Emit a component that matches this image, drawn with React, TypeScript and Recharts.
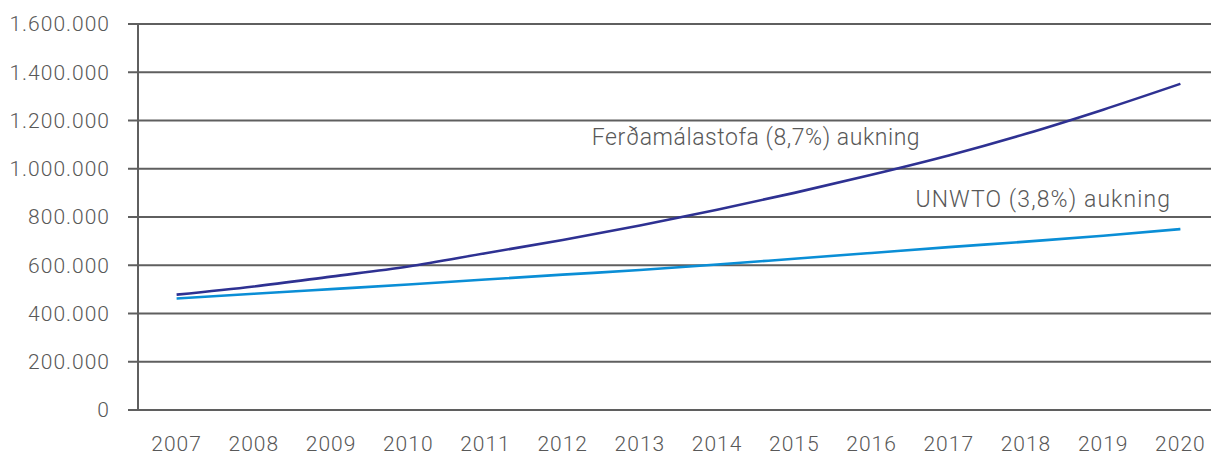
import { LineChart, Line, XAxis, YAxis, CartesianGrid, ReferenceDot } from "recharts";

const GRAY = "#5f5f5f";
const TEXT = "#585858";
const NAVY = "#2e3192";
const BLUE = "#0a8ed6";
const FONT = "Roboto, 'Liberation Sans', sans-serif";

const years = ["2007", "2008", "2009", "2010", "2011", "2012", "2013", "2014", "2015", "2016", "2017", "2018", "2019", "2020"];
const ferdamalastofa = [478000, 512000, 553000, 595000, 650000, 705000, 765000, 830000, 900000, 975000, 1055000, 1145000, 1245000, 1352000];
const unwto = [462000, 482000, 501000, 520000, 541000, 561000, 580000, 603000, 627000, 651000, 675000, 698000, 722000, 750000];
const yTicks = [0, 200000, 400000, 600000, 800000, 1000000, 1200000, 1400000, 1600000];
const boundaryTicks = years.map((_, i) => i).concat([years.length]);
const centerTicks = years.map((_, i) => i + 0.5);

const data = years.map((y, i) => ({ x: i + 0.5, year: y, ferd: ferdamalastofa[i], unwto: unwto[i] }));

const fmt = (v: number) => String(v).replace(/\B(?=(\d{3})+(?!\d))/g, ".");

const labelShape = (text: string, spacing: number) => (p: any) => (
  <text
    x={p.cx}
    y={p.cy}
    textAnchor="end"
    fill={TEXT}
    fontSize={23}
    fontFamily={FONT}
    fontWeight={300}
    letterSpacing={spacing}
  >
    {text}
  </text>
);

export default function App() {
  return (
    <div style={{ position: "absolute", left: 0, top: 0, width: 1211, height: 457, overflow: "hidden", background: "#fff" }}>
      <LineChart width={1221} height={457} data={data} margin={{ top: 24, right: 2, bottom: 0, left: 0 }}>
        <CartesianGrid xAxisId={0} vertical={false} stroke={GRAY} strokeWidth={2} />
        {/* tick marks sit on the year boundaries */}
        <XAxis
          xAxisId={0}
          type="number"
          dataKey="x"
          domain={[0, years.length]}
          ticks={boundaryTicks}
          interval={0}
          tick={false}
          tickSize={11}
          height={11}
          axisLine={{ stroke: GRAY, strokeWidth: 2 }}
          tickLine={{ stroke: GRAY, strokeWidth: 2 }}
        />
        {/* year labels sit in the middle of each year */}
        <XAxis
          xAxisId={1}
          type="number"
          dataKey="x"
          domain={[0, years.length]}
          ticks={centerTicks}
          interval={0}
          tickFormatter={(v) => years[Math.floor(v)]}
          axisLine={false}
          tickLine={false}
          tickSize={0}
          tickMargin={15}
          height={36}
          tick={{ fill: TEXT, fontSize: 21, fontFamily: FONT, fontWeight: 300, letterSpacing: 1 }}
        />
        <YAxis
          type="number"
          domain={[0, 1600000]}
          ticks={yTicks}
          interval={0}
          width={138}
          tickSize={10}
          tickMargin={18}
          tickFormatter={fmt}
          axisLine={{ stroke: GRAY, strokeWidth: 2 }}
          tickLine={{ stroke: GRAY, strokeWidth: 2 }}
          tick={{ fill: TEXT, fontSize: 21, fontFamily: FONT, fontWeight: 300, letterSpacing: 1 }}
        />
        <Line xAxisId={0} type="monotone" dataKey="ferd" stroke={NAVY} strokeWidth={2.6} dot={false} isAnimationActive={false} />
        <Line xAxisId={0} type="monotone" dataKey="unwto" stroke={BLUE} strokeWidth={2.6} dot={false} isAnimationActive={false} />
        <ReferenceDot xAxisId={0} x={10.13} y={1098000} r={0} shape={labelShape("Ferðamálastofa (8,7%) aukning", 0.55)} />
        <ReferenceDot xAxisId={0} x={13.38} y={843000} r={0} shape={labelShape("UNWTO (3,8%) aukning", 1.1)} />
      </LineChart>
    </div>
  );
}
